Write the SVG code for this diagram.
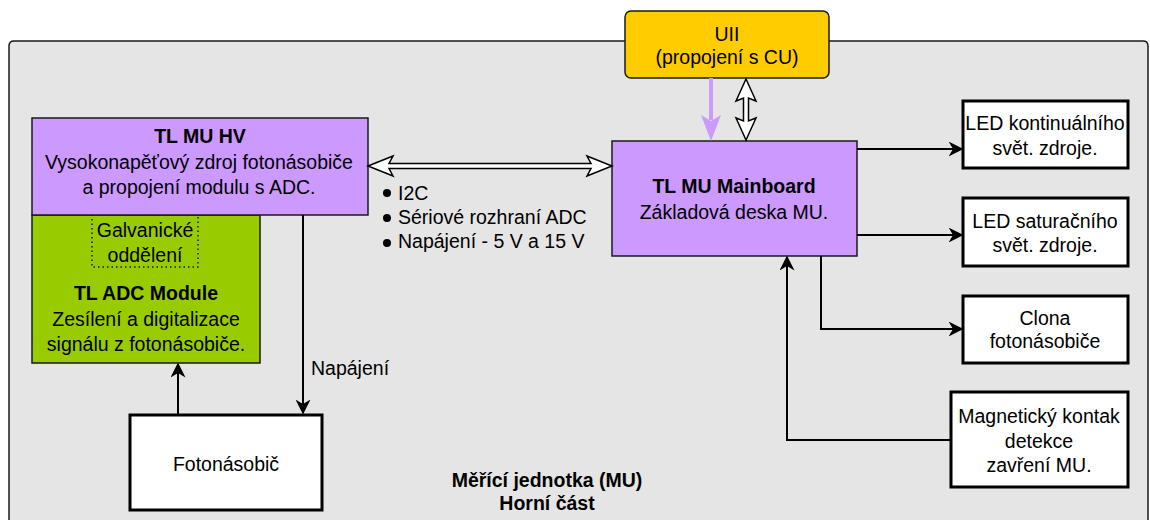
<svg xmlns="http://www.w3.org/2000/svg" width="1150" height="520" viewBox="0 0 1150 520">
<defs>
<style>
text{font-family:"Liberation Sans",Arial,sans-serif;font-size:19.5px;fill:#000;text-anchor:middle}
.b{font-weight:bold}
.l{text-anchor:start}
.wb{fill:#fff;stroke:#000;stroke-width:3}
.pb{fill:#cc99ff;stroke:#1a1a1a;stroke-width:1.5}
.c{fill:none;stroke:#000;stroke-width:2}
.ha{fill:#fff;stroke:#000;stroke-width:1.5;stroke-linejoin:miter}
</style>
<marker id="ah2" viewBox="0 0 10 10" refX="9" refY="5" markerWidth="15" markerHeight="15" markerUnits="userSpaceOnUse" orient="auto">
<path d="M0,0 L10,5 L0,10 L3,5 Z" fill="#000"/>
</marker>
</defs>
<g id="container">
<path d="M9,522 V46 Q9,41 14,41 H1143 Q1148,41 1148,46 V522" fill="#e5e5e5" stroke="#1a1a1a" stroke-width="1.5"/>
<text class="b" x="547" y="487">Měřící jednotka (MU)</text>
<text class="b" x="547" y="510">Horní část</text>
</g>
<g id="adc">
<rect x="32" y="215" width="228" height="148" fill="#99cc00" stroke="#1a1a1a" stroke-width="1.5"/>
<rect x="92" y="215" width="106" height="52" fill="none" stroke="#1a1a1a" stroke-width="1.5" stroke-dasharray="1.5,3"/>
<text x="145" y="237">Galvanické</text>
<text x="145" y="262">oddělení</text>
<text class="b" x="146" y="300">TL ADC Module</text>
<text x="146" y="326">Zesílení a digitalizace</text>
<text x="146" y="351">signálu z fotonásobiče.</text>
</g>
<g id="hv">
<rect class="pb" x="32" y="118" width="336" height="97"/>
<text class="b" x="200" y="143">TL MU HV</text>
<text x="199" y="169">Vysokonapěťový zdroj fotonásobiče</text>
<text x="199" y="194">a propojení modulu s ADC.</text>
</g>
<g id="fotonasobic">
<rect class="wb" x="130" y="415" width="192" height="95"/>
<text x="226" y="471">Fotonásobič</text>
</g>
<g id="mainboard">
<rect class="pb" x="612" y="141" width="245" height="115"/>
<text class="b" x="734" y="193">TL MU Mainboard</text>
<text x="734" y="219">Základová deska MU.</text>
</g>
<g id="uii">
<rect x="625" y="11" width="204" height="67" rx="6" fill="#ffcc00" stroke="#1a1a1a" stroke-width="1.5"/>
<text x="727" y="41">UII</text>
<text x="727" y="64">(propojení s CU)</text>
</g>
<g id="led1">
<rect class="wb" x="963" y="101" width="165" height="67"/>
<text x="1045" y="130">LED kontinuálního</text>
<text x="1045" y="155">svět. zdroje.</text>
</g>
<g id="led2">
<rect class="wb" x="963" y="198" width="165" height="68"/>
<text x="1045" y="228">LED saturačního</text>
<text x="1045" y="252">svět. zdroje.</text>
</g>
<g id="clona">
<rect class="wb" x="963" y="296" width="165" height="67"/>
<text x="1045" y="325">Clona</text>
<text x="1045" y="348">fotonásobiče</text>
</g>
<g id="magnet">
<rect class="wb" x="951" y="392" width="177" height="95"/>
<text x="1039" y="423">Magnetický kontak</text>
<text x="1039" y="448">detekce</text>
<text x="1039" y="472">zavření MU.</text>
</g>
<g id="connectors">
<polygon class="ha" points="368,166 393,156 389,163.5 591,163.5 587,156 612,166 587,176 591,168.5 389,168.5 393,176"/>
<polygon class="ha" points="746,79 756,101 748.5,98 748.5,121 756,118 746,140 736,118 743.5,121 743.5,98 736,101"/>
<line x1="711" y1="78" x2="711" y2="120" stroke="#cc99ff" stroke-width="4"/>
<path d="M701,115 L711,141 L721,115 L711,121 Z" fill="#cc99ff"/>
<path class="c" d="M178,414 V364" marker-end="url(#ah2)"/>
<path class="c" d="M303,215 V413" marker-end="url(#ah2)"/>
<text class="l" x="311" y="375">Napájení</text>
<path class="c" d="M857,149 H962" marker-end="url(#ah2)"/>
<path class="c" d="M857,235 H962" marker-end="url(#ah2)"/>
<path class="c" d="M821,256 V329 H962" marker-end="url(#ah2)"/>
<path class="c" d="M951,440 H787 V257" marker-end="url(#ah2)"/>
<g id="bullets">
<circle cx="387" cy="193" r="4"/>
<circle cx="387" cy="218" r="4"/>
<circle cx="387" cy="243" r="4"/>
<text class="l" x="398" y="200">I2C</text>
<text class="l" x="398" y="224">Sériové rozhraní ADC</text>
<text class="l" x="398" y="248">Napájení - 5 V a 15 V</text>
</g>
</g>
</svg>
